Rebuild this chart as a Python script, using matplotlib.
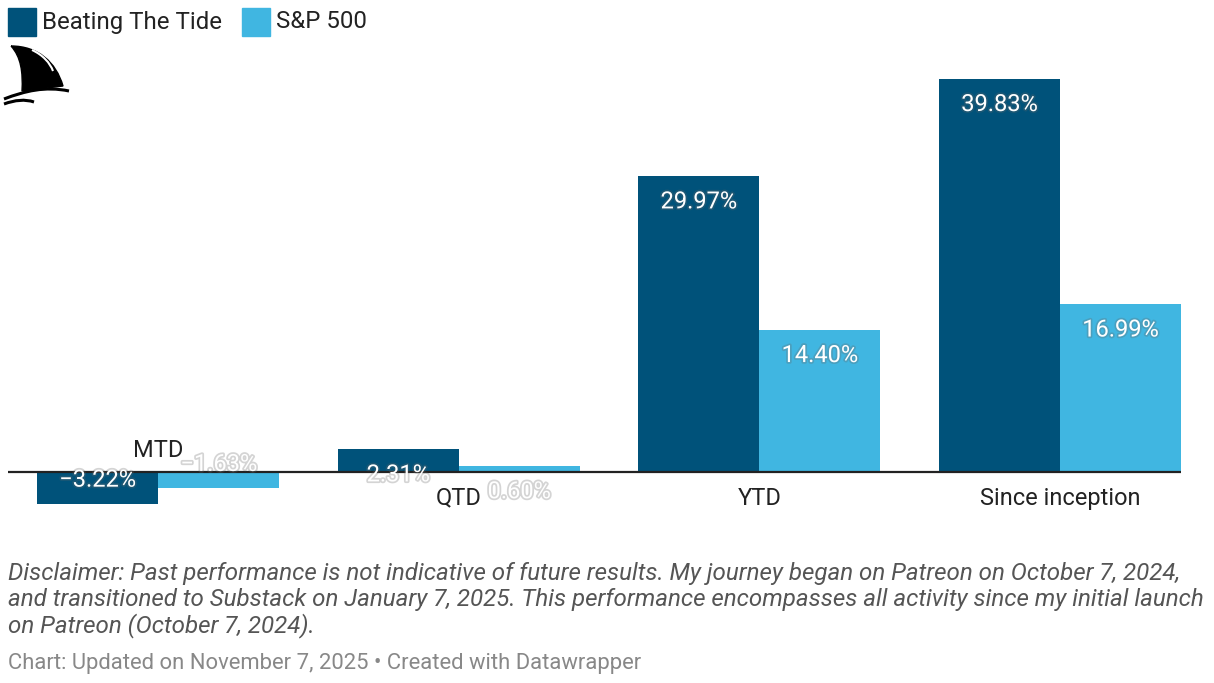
import matplotlib.pyplot as plt
import matplotlib.patheffects as pe
from matplotlib.patches import Rectangle, PathPatch
from matplotlib.path import Path

plt.rcParams['font.family'] = ['Roboto', 'DejaVu Sans']

# data
categories = ["MTD", "QTD", "YTD", "Since inception"]
series_names = ["Beating The Tide", "S&P 500"]
beating_tide = [-3.22, 2.31, 29.97, 39.83]
sp500 = [-1.63, 0.60, 14.40, 16.99]

dark = "#00527a"
light = "#40b6e1"
colors = [dark, light]

fig = plt.figure(figsize=(12.14, 6.83), dpi=100)
W, H = 1214, 683

# axes placed so that the baseline lands where the reference has it
ax = fig.add_axes([8 / W, (H - 511.5) / H, (1181 - 8) / W, 434.3 / H])
ax.set_xlim(-0.5, 3.4027)
ax.set_ylim(-4, 40)
ax.axis("off")

w = 0.4027
halo = [pe.withStroke(linewidth=2.5, foreground="#666666", alpha=0.28)]

for k, vals in enumerate([beating_tide, sp500]):
    for i, v in enumerate(vals):
        x0 = i - w if k == 0 else i
        ax.bar(x0, v, width=w, align="edge", color=colors[k], linewidth=0)
        ly = v - 2.6 if v > 0 else v + 2.4
        ax.text(x0 + w / 2, ly, f"{v:.2f}%".replace("-", "\u2212"),
                ha="center", va="center", color="white", fontsize=17,
                path_effects=halo)

ax.axhline(0, color="#222222", linewidth=1.6, xmin=0, xmax=1)

for i, c in enumerate(categories):
    neg = beating_tide[i] < 0
    ax.text(i, 2.23 if neg else -2.65, c, ha="center", va="center",
            fontsize=17, color="#222222")

# legend
for k, name in enumerate(series_names):
    x = [8, 242][k]
    fig.patches.append(Rectangle((x / W, (H - 36) / H), 28 / W, 28 / H,
                                 transform=fig.transFigure, color=colors[k]))
    fig.text((x + 34) / W, (H - 22) / H, name, fontsize=17.3, va="center",
             color="#222222")

# shark fin logo
lax = fig.add_axes([0, (H - 110) / H, 75 / W, 70 / H])
lax.set_xlim(0, 75)
lax.set_ylim(110, 40)
lax.axis("off")
fin = Path([(11, 46), (38, 46), (56, 62), (63, 86), (22, 91),
            (23, 72), (21, 57), (11, 46)],
           [Path.MOVETO, Path.CURVE4, Path.CURVE4, Path.CURVE4, Path.LINETO,
            Path.CURVE4, Path.CURVE4, Path.CURVE4])
lax.add_patch(PathPatch(fin, facecolor="black", edgecolor="black", lw=1))
stripe = Path([(32, 50), (43, 55), (50, 63), (53, 71)],
              [Path.MOVETO, Path.CURVE4, Path.CURVE4, Path.CURVE4])
lax.add_patch(PathPatch(stripe, facecolor="none", edgecolor="white", lw=1.5))
wave1 = Path([(4, 99), (25, 91), (45, 86), (69, 91)],
             [Path.MOVETO, Path.CURVE4, Path.CURVE4, Path.CURVE4])
lax.add_patch(PathPatch(wave1, facecolor="none", edgecolor="black", lw=2.2))
wave2 = Path([(4, 104), (15, 100), (25, 99), (34, 102)],
             [Path.MOVETO, Path.CURVE4, Path.CURVE4, Path.CURVE4])
lax.add_patch(PathPatch(wave2, facecolor="none", edgecolor="black", lw=2.2))

# notes
disclaimer = ("Disclaimer: Past performance is not indicative of future results. "
              "My journey began on Patreon on October 7, 2024,\n"
              "and transitioned to Substack on January 7, 2025. This performance "
              "encompasses all activity since my initial launch\n"
              "on Patreon (October 7, 2024).")
fig.text(8 / W, (H - 562) / H, disclaimer, fontsize=17.4, style="italic",
         color="#555555", va="top", linespacing=1.15)
fig.text(8 / W, (H - 664) / H,
         "Chart: Updated on November 7, 2025 \u2022 Created with Datawrapper",
         fontsize=15.8, color="#888888", va="center")

fig.savefig("out.png", dpi=100)
